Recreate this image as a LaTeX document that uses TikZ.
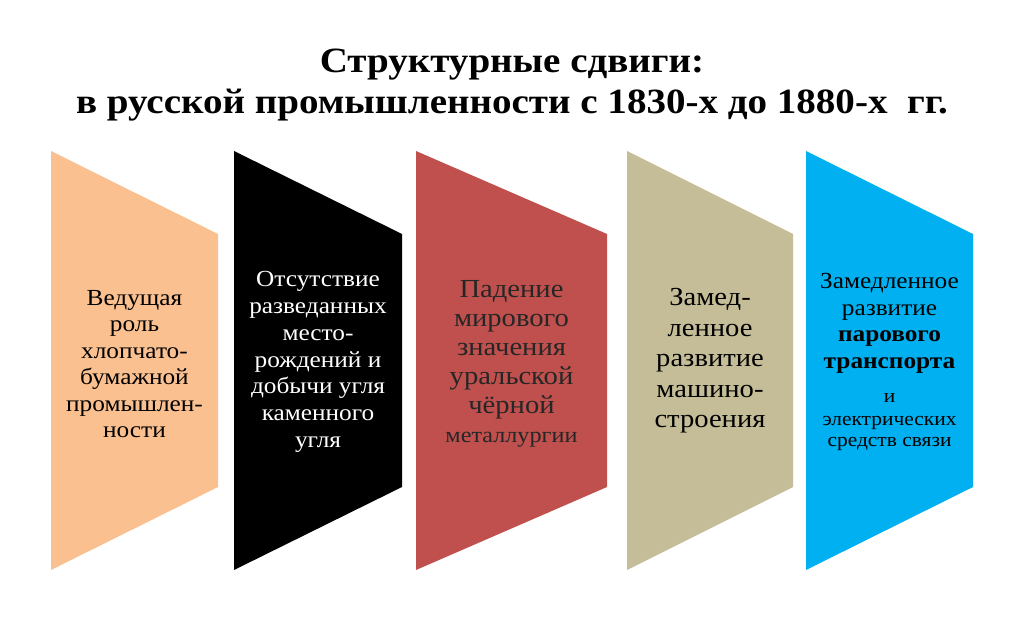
\documentclass[tikz,border=0pt]{standalone}
\usepackage{fontspec}
\setmainfont{Liberation Serif}[FakeStretch=1.1]
\usepackage{tikz}

\definecolor{peach}{HTML}{FAC090}
\definecolor{brick}{HTML}{C0504D}
\definecolor{khaki}{HTML}{C4BD97}
\definecolor{sky}{HTML}{00B0F0}

\begin{document}
\begin{tikzpicture}[x=1pt, y=-1pt,
    stage/.style ={align=center, inner sep=0pt},
    heading/.style ={align=center, inner sep=0pt,
      font=\fontsize{35.5}{41}\selectfont\bfseries}]
   \useasboundingbox (0,0) rectangle (1024,639);
   \node[heading] (T) at (512,85) {Структурные сдвиги:\\в русской промышленности с 1830-х до 1880-х~~гг.};
   \fill[peach] (51,151) -- (218,234) -- (218,487) -- (51,570) -- cycle;
   \fill[black] (234,151) -- (402,234) -- (402,487) -- (234,570) -- cycle;
   \fill[brick] (416,151) -- (607,234) -- (607,487) -- (416,570) -- cycle;
   \fill[khaki] (627,151) -- (793,234) -- (793,487) -- (627,570) -- cycle;
   \fill[sky] (806,151) -- (973,234) -- (973,487) -- (806,570) -- cycle;
   \node[stage, font=\fontsize{23}{26.5}\selectfont] (A) at (134.5,364)
     {Ведущая\\роль\\хлопчато-\\бумажной\\промышлен-\\ности};
   \node[stage, text=white, font=\fontsize{23}{26.8}\selectfont] (B) at (318,362)
     {Отсутствие\\разведанных\\место-\\рождений и\\добычи угля\\каменного\\угля};
   \node[stage, text=black!85, font=\fontsize{26}{29}\selectfont] (C) at (511.5,364)
     {Падение\\мирового\\значения\\уральской\\чёрной\\{\fontsize{22}{29}\selectfont металлургии}};
   \node[stage, font=\fontsize{26}{30.5}\selectfont] (D) at (710,361)
     {Замед-\\ленное\\развитие\\машино-\\строения};
   \node[stage, font=\fontsize{23}{26.7}\selectfont] (E) at (889.5,362)
     {Замедленное\\развитие\\\textbf{парового}\\\textbf{транспорта}\\[7pt]
      {\fontsize{19.5}{22}\selectfont и}\\[-3pt]
      {\fontsize{19.5}{22}\selectfont электрических}\\[-6pt]
      {\fontsize{19.5}{22}\selectfont средств связи}};
 \end{tikzpicture}
\end{document}
